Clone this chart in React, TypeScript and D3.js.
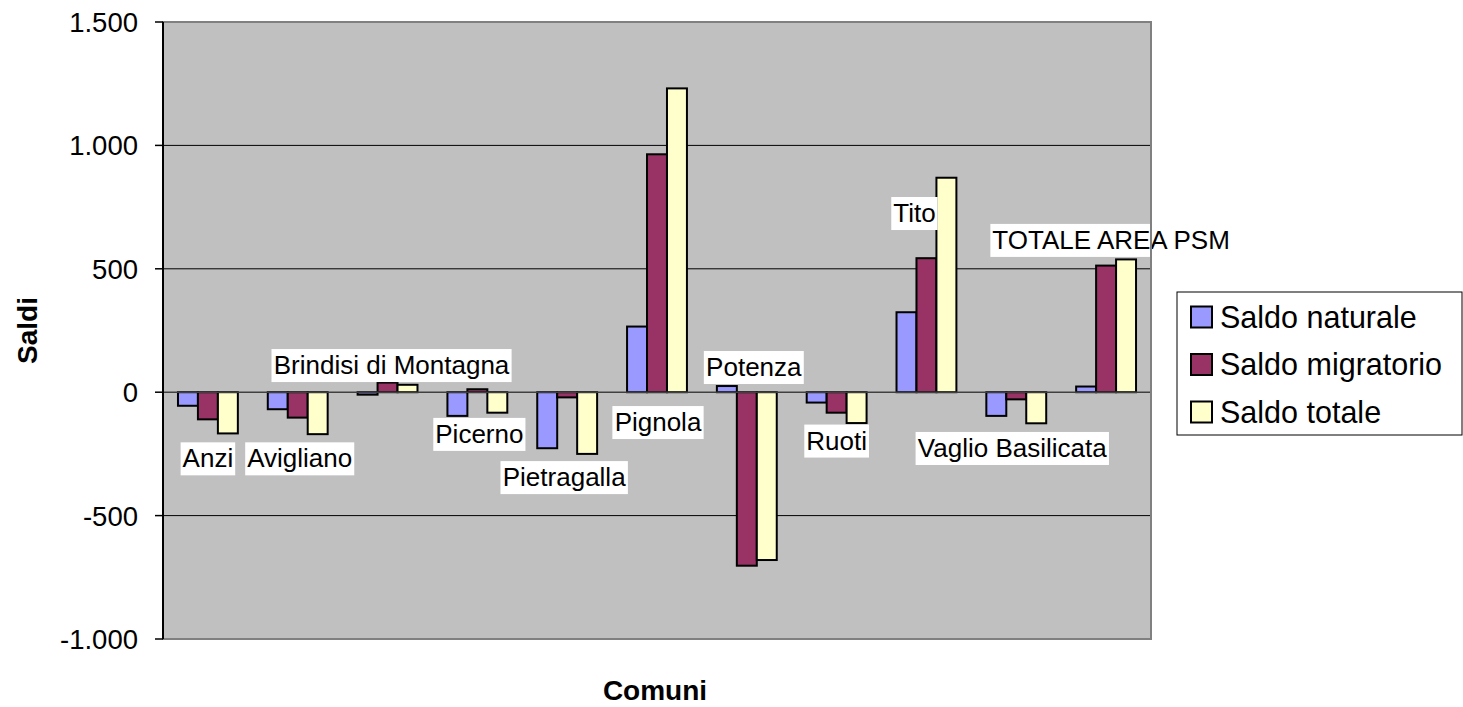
import React from "react";
import * as d3 from "d3";

const categories = [
  "Anzi",
  "Avigliano",
  "Brindisi di Montagna",
  "Picerno",
  "Pietragalla",
  "Pignola",
  "Potenza",
  "Ruoti",
  "Tito",
  "Vaglio Basilicata",
  "TOTALE AREA PSM",
];
const saldoNaturale = [-55, -69, -10, -96, -227, 266, 25, -42, 324, -96, 23];
const saldoMigratorio = [-110, -103, 39, 12, -21, 964, -703, -83, 543, -29, 513];
const saldoTotale = [-167, -170, 30, -83, -250, 1231, -680, -125, 869, -126, 538];
const seriesNames = ["Saldo naturale", "Saldo migratorio", "Saldo totale"];
const yTicks = [-1000, -500, 0, 500, 1000, 1500];

// layout for the (manually placed) category labels: [dx from category centre in px, y in value units]
const labelLayout: [number, number][] = [
  [0, -270],
  [2, -270],
  [4, 108],
  [2, -171],
  [-3, -346],
  [1, -123],
  [7, 100],
  [0, -198],
  [-12, 724],
  [-4, -228],
  [5, 615],
];

const colors = ["#9999FF", "#993366", "#FFFFCC"];
const FONT = "'Liberation Sans', Arial, sans-serif";

export default function App() {
  const W = 1463, H = 707;
  const left = 163, right = 1151, top = 22, bottom = 639;
  const x = d3.scaleBand<string>().domain(categories).range([left, right]).paddingInner(0).paddingOuter(0);
  const y = d3.scaleLinear().domain([-1000, 1500]).range([bottom, top]);
  const step = x.bandwidth();
  const barW = step / 4.5;
  const offs = 0.75 * barW;
  const series = [saldoNaturale, saldoMigratorio, saldoTotale];
  const fmt = (v: number) => d3.format(",")(v).replace(/,/g, ".").replace("\u2212", "-");

  return (
    <svg width={W} height={H} style={{ position: "absolute", left: 0, top: 0, background: "#fff" }} fontFamily={FONT}>
      <rect x={left} y={top} width={right - left} height={bottom - top} fill="#C0C0C0" />
      {yTicks.filter((t) => t !== -1000 && t !== 1500 && t !== 0).map((t) => (
        <line key={"g" + t} x1={left} x2={right} y1={y(t)} y2={y(t)} stroke="#000" strokeWidth={1} />
      ))}
      {/* plot border */}
      <rect x={left} y={top} width={right - left} height={bottom - top} fill="none" stroke="#808080" strokeWidth={2} />
      {/* bars */}
      {series.map((vals, si) =>
        vals.map((v, i) => {
          const bx = (x(categories[i]) as number) + offs + si * barW;
          const y0 = y(0), y1 = y(v);
          return (
            <rect
              key={si + "-" + i}
              x={bx}
              y={Math.min(y0, y1)}
              width={barW}
              height={Math.abs(y1 - y0)}
              fill={colors[si]}
              stroke="#000"
              strokeWidth={2}
            />
          );
        })
      )}
      {/* zero line (category axis) */}
      <line x1={left} x2={right} y1={y(0)} y2={y(0)} stroke="#404040" strokeWidth={1.5} />
      {/* y axis */}
      <line x1={left} x2={left} y1={top} y2={bottom} stroke="#000" strokeWidth={2} />
      {yTicks.map((t) => (
        <g key={"t" + t}>
          <line x1={left - 8} x2={left} y1={y(t)} y2={y(t)} stroke="#000" strokeWidth={1.5} />
          <text x={138} y={y(t)} dy="0.36em" textAnchor="end" fontSize={27.5} fill="#000">
            {fmt(t)}
          </text>
        </g>
      ))}
      {/* category labels */}
      {categories.map((c, i) => {
        const [dx, vy] = labelLayout[i];
        const cx = (x(c) as number) + step / 2 + dx;
        const cy = y(vy);
        return <LabelBox key={"l" + i} cx={cx} cy={cy} text={c} />;
      })}
      {/* right plot border drawn over labels */}
      <line x1={right} x2={right} y1={top} y2={bottom} stroke="#808080" strokeWidth={2} />
      {/* axis titles */}
      <text x={(left + right) / 2 - 2} y={700} textAnchor="middle" fontSize={28} fontWeight="bold">
        Comuni
      </text>
      <text transform={`translate(36.5,${(top + bottom) / 2}) rotate(-90)`} textAnchor="middle" fontSize={28} fontWeight="bold">
        Saldi
      </text>
      {/* legend */}
      <rect x={1177} y={292} width={285} height={143} fill="#fff" stroke="#000" strokeWidth={1} />
      {seriesNames.map((n, i) => (
        <g key={"lg" + i} transform={`translate(1191,${317 + i * 47.5})`}>
          <rect x={0} y={-10.5} width={21} height={21} fill={colors[i]} stroke="#000" strokeWidth={2} />
          <text x={29} y={0} dy="0.36em" fontSize={30.5}>
            {n}
          </text>
        </g>
      ))}
    </svg>
  );
}

function LabelBox({ cx, cy, text }: { cx: number; cy: number; text: string }) {
  const ref = React.useRef<SVGTextElement>(null);
  const [w, setW] = React.useState(0);
  React.useLayoutEffect(() => {
    if (ref.current) setW(ref.current.getBBox().width);
  }, [text]);
  const pad = 2;
  return (
    <g>
      <rect x={cx - w / 2 - pad} y={cy - 16.5} width={w + pad * 2} height={33} fill="#fff" />
      <text ref={ref} x={cx} y={cy + 8.5} textAnchor="middle" fontSize={26} fill="#000">
        {text}
      </text>
    </g>
  );
}
